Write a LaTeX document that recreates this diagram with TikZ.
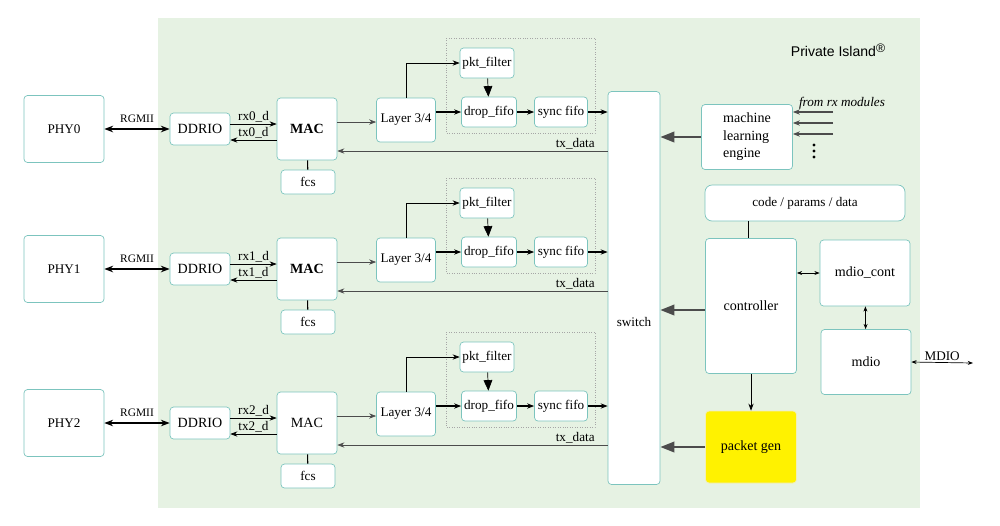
\documentclass[tikz,border=0pt]{standalone}
\usepackage{fontspec}
\setmainfont{Liberation Serif}
\newfontfamily\labelsans{Liberation Sans}
\usetikzlibrary{arrows.meta}
\definecolor{bggreen}{HTML}{E6F2E3}
\definecolor{boxedge}{HTML}{7CC4BE}
\begin{document}
\begin{tikzpicture}[x=0.02cm, y=-0.02cm, font=\fontsize{7.5}{9}\selectfont,
  blk/.style={draw=boxedge, fill=white, rounded corners=2pt, inner sep=0pt, align=center},
  thin arrow/.style={-{Stealth[length=4pt]}, thin},
  fat arrow/.style={-{Triangle[length=8pt,width=6pt]}, line width=1.2pt, black!70}]
\useasboundingbox (0,0) rectangle (1000,525);
\fill[bggreen] (158,18) rectangle (920,508);
\node[font=\labelsans\fontsize{8}{9}\selectfont] (brand) at (838,50) {Private Island\raisebox{0.6ex}{\fontsize{7}{8}\selectfont\textregistered}};
% switch
\node[blk, minimum width=52*0.02cm, minimum height=393*0.02cm] (switch) at (634,288) {};
\node (swlbl) at (634,322) {switch};
% the three ports
\foreach \i/\dy/\mw/\rw in {0/0/\bfseries/1pt, 1/140/\bfseries/1pt, 2/294//0.6pt} {
  \node[blk, minimum width=80*0.02cm, minimum height=67*0.02cm] (phy\i) at (64,129+\dy) {PHY\i};
  \node[blk, minimum width=60*0.02cm, minimum height=32*0.02cm] (ddrio\i) at (200,129+\dy) {\fontsize{8}{9}\selectfont DDRIO};
  \node[blk, minimum width=60*0.02cm, minimum height=62*0.02cm] (mac\i) at (307,129+\dy) {\fontsize{8}{9}\selectfont\mw MAC};
  \node[blk, minimum width=54*0.02cm, minimum height=24*0.02cm] (fcs\i) at (308,182+\dy) {fcs};
  \node[blk, minimum width=59*0.02cm, minimum height=44*0.02cm] (layer\i) at (406,120+\dy) {Layer 3/4};
  \node[blk, minimum width=54*0.02cm, minimum height=30*0.02cm] (filter\i) at (487,63+\dy) {pkt\_filter};
  \node[blk, minimum width=55*0.02cm, minimum height=30*0.02cm] (drop\i) at (489,112+\dy) {drop\_fifo};
  \node[blk, minimum width=53*0.02cm, minimum height=30*0.02cm] (sync\i) at (561,112+\dy) {sync fifo};
  \draw[gray!70, densely dotted] (446,38+\dy) rectangle (595,133+\dy);
  \draw[{Stealth[length=5pt]}-{Stealth[length=5pt]}, line width=\rw] (phy\i.east) -- node[above, font=\fontsize{6.5}{8}\selectfont] {RGMII} (ddrio\i.west);
  \draw[thin arrow] (ddrio\i.east |- 0,124+\dy) -- node[above, inner sep=1pt] {rx\i\_d} (mac\i.west |- 0,124+\dy);
  \draw[thin arrow] (mac\i.west |- 0,140+\dy) -- node[above, inner sep=1pt] {tx\i\_d} (ddrio\i.east |- 0,140+\dy);
  \draw[semithick] (mac\i) -- (fcs\i);
  \draw[thin arrow, black!70] (mac\i.east |- 0,122+\dy) -- (layer\i.west |- 0,122+\dy);
  \draw[thin arrow] (layer\i.north) |- (filter\i.west);
  \draw[-{Triangle[length=6pt,width=5pt]}, thin] (filter\i) -- (drop\i);
  \draw[thin arrow, semithick] (layer\i.east |- drop\i) -- (drop\i.west);
  \draw[thin arrow, semithick] (drop\i) -- (sync\i);
  \draw[thin arrow, semithick] (sync\i) -- (switch.west |- sync\i);
  \draw[thin arrow, black!70] (switch.west |- 0,151+\dy) -- node[above, pos=0.12, inner sep=1pt, black] {tx\_data} (mac\i.east |- 0,151+\dy);
}
% right hand side
\node[blk, fill=white, minimum width=91*0.02cm, minimum height=65*0.02cm, align=left, font=\fontsize{8}{9}\selectfont] (mle) at (747,137) {machine\\[1pt]learning\\[1pt]engine};
\foreach \y [count=\k] in {112,123,134}
  \coordinate (rx\k) at (833,\y);
\foreach \k in {1,2,3}
  \draw[-{Stealth[length=4pt]}, black!70, semithick] (rx\k) -- (mle.east |- rx\k);
\node[font=\itshape\fontsize{7.5}{9}\selectfont] (rxlbl) at (842,103) {from rx modules};
\foreach \y in {145,151,157}
  \fill (814,\y) circle (0.9pt);
\node[blk, minimum width=200*0.02cm, minimum height=36*0.02cm, rounded corners=4pt] (code) at (805,203) {code / params / data};
\node[blk, minimum width=91*0.02cm, minimum height=135*0.02cm, font=\fontsize{8}{9}\selectfont] (ctrl) at (751,306) {controller};
\node[blk, minimum width=90*0.02cm, minimum height=66*0.02cm, font=\fontsize{8}{9}\selectfont] (mdiocont) at (865,273) {mdio\_cont};
\node[blk, minimum width=90*0.02cm, minimum height=65*0.02cm, font=\fontsize{8}{9}\selectfont] (mdio) at (866,362) {mdio};
\node[blk, draw=yellow!80!black!30, fill=yellow, minimum width=91*0.02cm, minimum height=72*0.02cm, font=\fontsize{8}{9}\selectfont] (pktgen) at (751,447) {packet gen};
\coordinate (mdioport) at (973,363);
\draw[fat arrow] (mle.west) -- (switch.east |- mle.west);
\draw[fat arrow] (ctrl.west |- 0,310) -- (switch.east |- 0,310);
\draw[fat arrow] (pktgen.west) -- (switch.east |- pktgen.west);
\draw (code.south -| 748,0) -- (ctrl.north -| 748,0);
\draw[thin arrow] (ctrl) -- (pktgen);
\draw[{Stealth[length=3pt]}-{Stealth[length=3pt]}] (ctrl.east |- mdiocont) -- (mdiocont.west);
\draw[{Stealth[length=3pt]}-{Stealth[length=3pt]}] (mdiocont) -- (mdio);
\draw[{Stealth[length=3pt]}-{Stealth[length=3pt]}] (mdio.east) -- node[above, inner sep=1pt] {MDIO} (mdioport);
\end{tikzpicture}
\end{document}
